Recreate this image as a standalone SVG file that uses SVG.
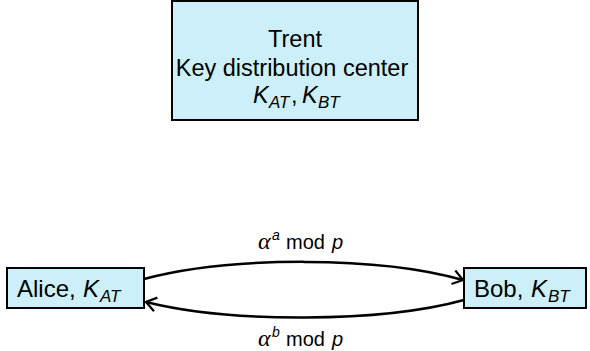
<svg xmlns="http://www.w3.org/2000/svg" width="590" height="351" viewBox="0 0 590 351">
<defs>
<style>
.box{fill:#cdeff9;stroke:#000;stroke-width:2}
.t{font-family:"Liberation Sans",Arial,sans-serif;font-size:23.5px;fill:#000}
.n{font-family:"Liberation Sans",Arial,sans-serif;font-size:24px;fill:#000}
.m{font-style:italic}
.s{font-style:italic;font-size:17px}
.a{font-family:"Liberation Serif","Times New Roman",serif;font-style:italic;font-size:24px}
.lbl{font-family:"Liberation Sans",Arial,sans-serif;font-size:20px;fill:#000}
.edge{fill:none;stroke:#000;stroke-width:2.5}
</style>
<marker id="arr" viewBox="0 0 12 16" refX="11" refY="8" markerWidth="12" markerHeight="16" markerUnits="userSpaceOnUse" orient="auto">
<path d="M1,1 L11,8 L1,15" fill="none" stroke="#000" stroke-width="2.2"/>
</marker>
</defs>
<rect width="590" height="351" fill="#fff"/>
<g id="trent">
<rect class="box" x="172" y="1" width="246" height="119"/>
<text class="t" x="295" y="47" text-anchor="middle">Trent</text>
<text class="t" x="292" y="76" text-anchor="middle">Key distribution center</text>
<text class="t" y="103"><tspan class="m" x="253">K</tspan><tspan class="s" x="269" dy="5">AT</tspan><tspan x="291" dy="-5">,</tspan><tspan class="m" x="302">K</tspan><tspan class="s" x="318" dy="5">BT</tspan></text>
</g>
<g id="alice">
<rect class="box" x="7" y="268" width="137" height="40"/>
<text class="n" y="297"><tspan x="17">Alice,</tspan><tspan class="m" x="83">K</tspan><tspan class="s" x="100" dy="5">AT</tspan></text>
</g>
<g id="bob">
<rect class="box" x="464" y="268" width="122" height="40"/>
<text class="n" y="297"><tspan x="474">Bob,</tspan><tspan class="m" x="531">K</tspan><tspan class="s" x="548" dy="5">BT</tspan></text>
</g>
<g id="connectors">
<path class="edge" d="M144,279 C230,256 380,256 463,280" marker-end="url(#arr)"/>
<path class="edge" d="M464,300 C380,323 230,323 146,302" marker-end="url(#arr)"/>
<text class="lbl" y="249"><tspan class="a" x="258">α</tspan><tspan class="m" font-size="14" x="272" dy="-9">a</tspan><tspan x="286" dy="9">mod</tspan><tspan class="m" x="332">p</tspan></text>
<text class="lbl" y="346"><tspan class="a" x="258">α</tspan><tspan class="m" font-size="14" x="272" dy="-9">b</tspan><tspan x="286" dy="9">mod</tspan><tspan class="m" x="332">p</tspan></text>
</g>
</svg>
